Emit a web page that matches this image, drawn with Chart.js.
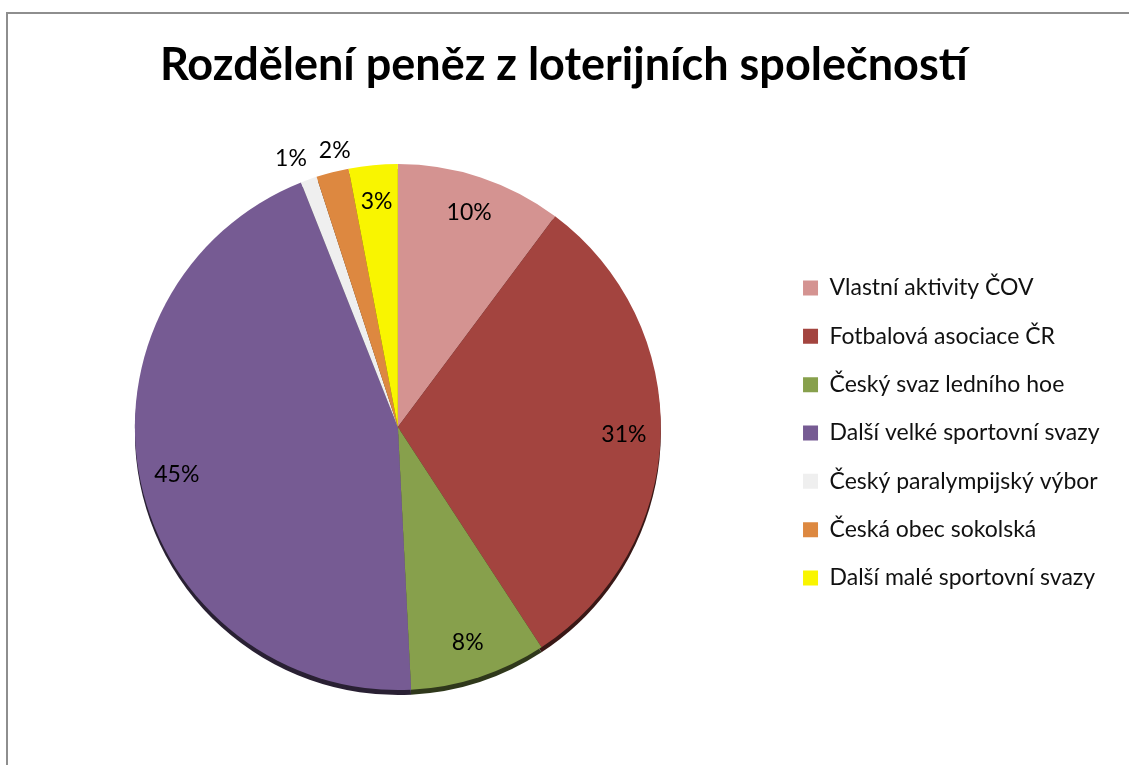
<!DOCTYPE html>
<html>
<head>
<meta charset="utf-8">
<script src="https://cdn.jsdelivr.net/npm/chart.js@4.4.1/dist/chart.umd.min.js"></script>
<style>
  body { margin: 0; overflow: hidden; background: #fff; }
  #frame { position: absolute; left: 6px; top: 12px; width: 1200px; height: 800px;
           border-left: 2px solid #8e8e8e; border-top: 2px solid #8e8e8e; }
  #chart { position: absolute; left: 0; top: 0; }
</style>
</head>
<body>
<div id="frame"></div>
<canvas id="chart" width="1129" height="765"></canvas>
<script>
const chartTitle = 'Rozdělení peněz z loterijních společností';
const categories = [
    'Vlastní aktivity ČOV',
    'Fotbalová asociace ČR',
    'Český svaz ledního hoe',
    'Další velké sportovní svazy',
    'Český paralympijský výbor',
    'Česká obec sokolská',
    'Další malé sportovní svazy'
];
const shares = [10.2, 30.6, 8.4, 44.8, 1.0, 2.0, 3.0];
const sliceColors = ['#D49391', '#A3443F', '#87A04C', '#765B93', '#EFEFEF', '#DD8840', '#F9F500'];

const FONT = 'Lato';
const LABEL_SIZE = 23;

function darken(hex, f) {
    const n = parseInt(hex.slice(1), 16);
    const r = Math.round(((n >> 16) & 255) * f);
    const g = Math.round(((n >> 8) & 255) * f);
    const b = Math.round((n & 255) * f);
    return `rgb(${r},${g},${b})`;
}

// dark rim under the pie, like the 3D edge in the original
const rimPlugin = {
    id: 'rim',
    beforeDatasetsDraw(chart) {
        const ctx = chart.ctx;
        chart.getDatasetMeta(0).data.forEach((arc, i) => {
            const p = arc.getProps(['x', 'y', 'startAngle', 'endAngle', 'outerRadius']);
            ctx.save();
            ctx.fillStyle = darken(sliceColors[i], 0.35);
            ctx.beginPath();
            ctx.moveTo(p.x, p.y + 5);
            ctx.arc(p.x, p.y + 5, p.outerRadius, p.startAngle, p.endAngle);
            ctx.closePath();
            ctx.fill();
            ctx.restore();
        });
    }
};

// percentage labels, small slices get theirs outside the pie
const labelPlugin = {
    id: 'pctLabels',
    afterDatasetsDraw(chart) {
        const ctx = chart.ctx;
        const total = shares.reduce((a, b) => a + b, 0);
        ctx.save();
        ctx.font = `${LABEL_SIZE}px ${FONT}`;
        ctx.fillStyle = '#000';
        ctx.textAlign = 'center';
        ctx.textBaseline = 'middle';

        const items = chart.getDatasetMeta(0).data.map((arc, i) => {
            const p = arc.getProps(['x', 'y', 'startAngle', 'endAngle', 'outerRadius']);
            const mid = (p.startAngle + p.endAngle) / 2;
            const pct = shares[i] / total * 100;
            const text = Math.round(pct) + '%';
            const w = ctx.measureText(text).width;
            const outside = pct < 2.5;
            let x, y;
            if (outside) {
                const r = p.outerRadius * 1.04;
                x = p.x + Math.cos(mid) * r + Math.cos(mid) * w / 2;
                y = p.y + Math.sin(mid) * r + Math.sin(mid) * LABEL_SIZE / 2;
            } else {
                x = p.x + Math.cos(mid) * p.outerRadius * 0.86;
                y = p.y + Math.sin(mid) * p.outerRadius * 0.86;
            }
            return { text, x, y, w, outside };
        });

        // push neighbouring outside labels apart
        const out = items.filter(it => it.outside);
        for (let k = 1; k < out.length; k++) {
            const a = out[k - 1], b = out[k];
            const need = (a.w + b.w) / 2 + 12;
            const d = b.x - a.x;
            if (Math.abs(d) < need) {
                const s = (need - Math.abs(d)) / 2 * (d >= 0 ? 1 : -1);
                a.x -= s;
                b.x += s;
            }
        }

        items.forEach(it => ctx.fillText(it.text, it.x, it.y));
        ctx.restore();
    }
};

const ctx = document.getElementById('chart').getContext('2d');
const chart = new Chart(ctx, {
    type: 'pie',
    data: {
        labels: categories,
        datasets: [{
            data: shares,
            backgroundColor: sliceColors,
            borderWidth: 0,
            radius: 263
        }]
    },
    options: {
        responsive: false,
        animation: false,
        layout: { padding: { left: 18, right: 0, top: 0, bottom: 61 } },
        plugins: {
            title: {
                display: true,
                text: chartTitle,
                color: '#000',
                font: { family: FONT, size: 45, weight: 'bold', lineHeight: 1.2 },
                padding: { top: 38, bottom: 58 }
            },
            legend: {
                position: 'right',
                align: 'center',
                fullSize: false,
                title: { display: true, text: '', font: { size: 10, lineHeight: 1.2 }, padding: 0 },
                labels: {
                    color: '#111',
                    font: { family: FONT, size: LABEL_SIZE },
                    boxWidth: 15,
                    boxHeight: 15,
                    padding: 25.33
                }
            },
            tooltip: { enabled: false }
        }
    },
    plugins: [rimPlugin, labelPlugin]
});

// put the legend boxes where the original has them (x = 803)
chart.options.layout.padding.right = 1129 - 777.7 - chart.legend.width;
chart.update();
</script>
</body>
</html>
